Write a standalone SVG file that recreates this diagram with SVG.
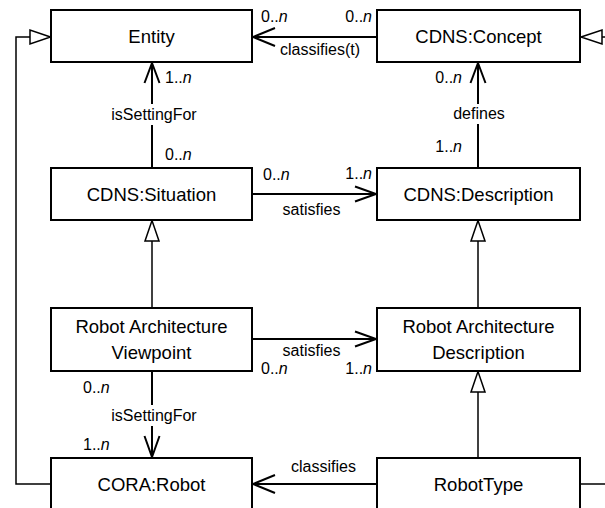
<svg xmlns="http://www.w3.org/2000/svg" width="605" height="508" viewBox="0 0 605 508">
<defs>
<style>
.box{fill:#fff;stroke:#000;stroke-width:2}
.bt{font-family:"Liberation Sans",Arial,sans-serif;font-size:18.5px;fill:#000;text-anchor:middle}
.lb{font-family:"Liberation Sans",Arial,sans-serif;font-size:16px;fill:#000}
.mid{text-anchor:middle}
.end{text-anchor:end}
.assoc{fill:none;stroke:#000;stroke-width:2}
.gen{fill:none;stroke:#000;stroke-width:1.5}
.tri{fill:#fff;stroke:#000;stroke-width:1.5}
.bg{fill:#fff}
</style>
</defs>
<g id="connectors">
  <!-- classifies(t) Concept -> Entity -->
  <line class="assoc" x1="377" y1="37" x2="253" y2="37"/>
  <polyline class="assoc" points="275,28 253,37 275,46"/>
  <text class="lb" x="261" y="22">0..<tspan font-style="italic">n</tspan></text>
  <text class="lb end" x="372" y="22">0..<tspan font-style="italic">n</tspan></text>
  <text class="lb mid" x="320" y="55">classifies(t)</text>

  <!-- isSettingFor Situation -> Entity -->
  <line class="assoc" x1="152" y1="168" x2="152" y2="63"/>
  <polyline class="assoc" points="144.5,83 152,63 159.5,83"/>
  <rect class="bg" x="108" y="104" width="92" height="21"/>
  <text class="lb mid" x="154" y="120">isSettingFor</text>
  <text class="lb" x="165" y="83">1..<tspan font-style="italic">n</tspan></text>
  <text class="lb" x="165" y="160">0..<tspan font-style="italic">n</tspan></text>

  <!-- defines Description -> Concept -->
  <line class="assoc" x1="478" y1="168" x2="478" y2="63"/>
  <polyline class="assoc" points="470.5,83 478,63 485.5,83"/>
  <rect class="bg" x="452" y="104" width="54" height="20"/>
  <text class="lb mid" x="479" y="119">defines</text>
  <text class="lb end" x="462" y="83">0..<tspan font-style="italic">n</tspan></text>
  <text class="lb end" x="462" y="152">1..<tspan font-style="italic">n</tspan></text>

  <!-- satisfies Situation -> Description -->
  <line class="assoc" x1="253" y1="194" x2="376" y2="194"/>
  <polyline class="assoc" points="355,186.5 376,194 355,201.5"/>
  <text class="lb" x="263" y="180">0..<tspan font-style="italic">n</tspan></text>
  <text class="lb end" x="372" y="179">1..<tspan font-style="italic">n</tspan></text>
  <text class="lb mid" x="311.5" y="215">satisfies</text>

  <!-- satisfies RAV -> RAD -->
  <line class="assoc" x1="253" y1="339" x2="376" y2="339"/>
  <polyline class="assoc" points="355,331.5 376,339 355,346.5"/>
  <text class="lb mid" x="311.5" y="356">satisfies</text>
  <text class="lb" x="261" y="374">0..<tspan font-style="italic">n</tspan></text>
  <text class="lb end" x="372" y="374">1..<tspan font-style="italic">n</tspan></text>

  <!-- isSettingFor RAV -> Robot -->
  <line class="assoc" x1="152" y1="371" x2="152" y2="457"/>
  <polyline class="assoc" points="144.5,436 152,457 159.5,436"/>
  <rect class="bg" x="108" y="405" width="92" height="21"/>
  <text class="lb mid" x="154" y="421">isSettingFor</text>
  <text class="lb" x="83" y="393">0..<tspan font-style="italic">n</tspan></text>
  <text class="lb" x="83" y="450">1..<tspan font-style="italic">n</tspan></text>

  <!-- classifies RobotType -> Robot -->
  <line class="assoc" x1="377" y1="484" x2="253" y2="484"/>
  <polyline class="assoc" points="275,475 253,484 275,493"/>
  <text class="lb mid" x="323.5" y="472">classifies</text>

  <!-- generalizations -->
  <line class="gen" x1="152" y1="308" x2="152" y2="241"/>
  <polygon class="tri" points="152,220.5 145,241 159,241"/>
  <line class="gen" x1="478" y1="308" x2="478" y2="241"/>
  <polygon class="tri" points="478,220.5 471,241 485,241"/>
  <line class="gen" x1="478" y1="458" x2="478" y2="392"/>
  <polygon class="tri" points="478,371.5 471,392 485,392"/>
  <polyline class="gen" points="51,484 16,484 16,37 30,37"/>
  <polygon class="tri" points="50.5,37 30,30 30,44"/>
  <polyline class="gen" points="580,484 612,484 612,37 602,37"/>
  <polygon class="tri" points="581,37 602,30 602,44"/>
</g>
<g id="entity">
  <rect class="box" x="51" y="10" width="201" height="52"/>
  <text class="bt" x="151.5" y="43">Entity</text>
</g>
<g id="concept">
  <rect class="box" x="377" y="10" width="203" height="52"/>
  <text class="bt" x="478.5" y="43">CDNS:Concept</text>
</g>
<g id="situation">
  <rect class="box" x="51" y="168" width="201" height="52"/>
  <text class="bt" x="151.5" y="201">CDNS:Situation</text>
</g>
<g id="description">
  <rect class="box" x="377" y="168" width="203" height="52"/>
  <text class="bt" x="478.5" y="201">CDNS:Description</text>
</g>
<g id="rav">
  <rect class="box" x="51" y="308" width="201" height="63"/>
  <text class="bt" x="151.5" y="333">Robot Architecture</text>
  <text class="bt" x="151.5" y="359">Viewpoint</text>
</g>
<g id="rad">
  <rect class="box" x="377" y="308" width="203" height="63"/>
  <text class="bt" x="478.5" y="333">Robot Architecture</text>
  <text class="bt" x="478.5" y="359">Description</text>
</g>
<g id="robot">
  <rect class="box" x="51" y="458" width="201" height="53"/>
  <text class="bt" x="151.5" y="491">CORA:Robot</text>
</g>
<g id="robottype">
  <rect class="box" x="377" y="458" width="203" height="53"/>
  <text class="bt" x="478.5" y="491">RobotType</text>
</g>
</svg>
